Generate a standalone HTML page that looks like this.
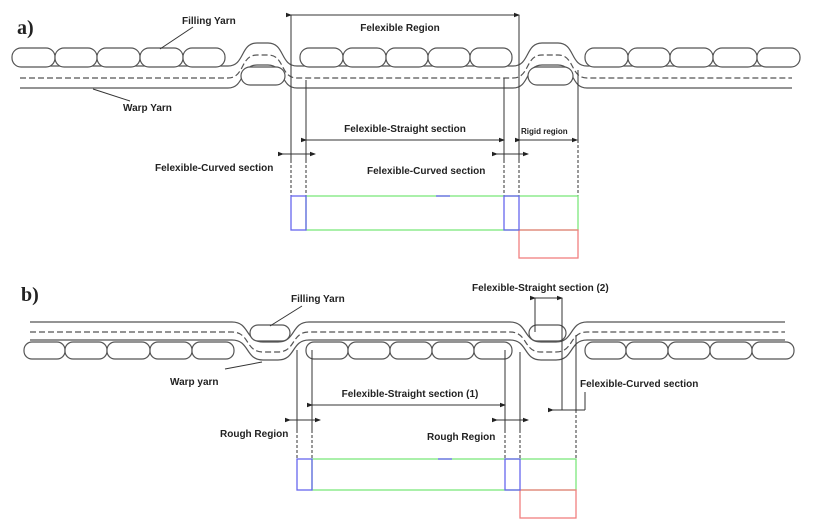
<!DOCTYPE html>
<html><head><meta charset="utf-8"><style>
html,body{margin:0;padding:0;background:#fff}
svg{display:block}
text{font-family:"Liberation Sans",sans-serif;font-weight:bold;font-size:10px;fill:#222}
</style></head><body>
<svg width="814" height="522" viewBox="0 0 814 522" xmlns="http://www.w3.org/2000/svg">
<defs>
<marker id="ar" markerWidth="6" markerHeight="6" refX="5" refY="3" orient="auto" markerUnits="userSpaceOnUse"><path d="M0,0.8 L6,3 L0,5.2z" fill="#222"/></marker>
</defs>
<g fill="none" stroke="#555" stroke-width="1.2">
<!-- part a warp -->
<path id="wa" d="M20,78 H228 C245,78 240,55 257,55 H268 C285,55 280,78 297,78 H513 C530,78 525,55 542,55 H558 C575,55 570,78 587,78 H792" stroke-dasharray="6,3"/>
<path d="M20,78 H228 C245,78 240,55 257,55 H268 C285,55 280,78 297,78 H513 C530,78 525,55 542,55 H558 C575,55 570,78 587,78 H792" transform="translate(0,-12)"/>
<path d="M20,78 H228 C245,78 240,55 257,55 H268 C285,55 280,78 297,78 H513 C530,78 525,55 542,55 H558 C575,55 570,78 587,78 H792" transform="translate(0,10)"/>
</g>
<g fill="#fff" stroke="#555" stroke-width="1.2">
<rect x="12" y="48" width="43" height="19" rx="9"/><rect x="55" y="48" width="42" height="19" rx="9"/><rect x="97" y="48" width="43" height="19" rx="9"/><rect x="140" y="48" width="43" height="19" rx="9"/><rect x="183" y="48" width="42" height="19" rx="9"/>
<rect x="300" y="48" width="43" height="19" rx="9"/><rect x="343" y="48" width="43" height="19" rx="9"/><rect x="386" y="48" width="42" height="19" rx="9"/><rect x="428" y="48" width="42" height="19" rx="9"/><rect x="470" y="48" width="42" height="19" rx="9"/>
<rect x="585" y="48" width="43" height="19" rx="9"/><rect x="628" y="48" width="42" height="19" rx="9"/><rect x="670" y="48" width="43" height="19" rx="9"/><rect x="713" y="48" width="44" height="19" rx="9"/><rect x="757" y="48" width="43" height="19" rx="9"/>
<rect x="241" y="67" width="44" height="18" rx="9"/><rect x="528" y="67" width="45" height="18" rx="9"/>
</g>
<!-- part a dims -->
<g stroke="#333" stroke-width="1" fill="none">
<line x1="291" y1="15" x2="519" y2="15" marker-end="url(#ar)" marker-start="url(#ar)"/>
<line x1="291" y1="15" x2="291" y2="160"/><line x1="519" y1="15" x2="519" y2="160"/>
<line x1="306" y1="80" x2="306" y2="160"/><line x1="504" y1="78" x2="504" y2="160"/><line x1="578" y1="70" x2="578" y2="140"/>
<line x1="306" y1="140" x2="504" y2="140" marker-end="url(#ar)" marker-start="url(#ar)"/>
<line x1="520" y1="140" x2="577" y2="140" marker-end="url(#ar)" marker-start="url(#ar)"/>
<line x1="283" y1="154" x2="315" y2="154" marker-end="url(#ar)" marker-start="url(#ar)"/>
<line x1="497" y1="154" x2="528" y2="154" marker-end="url(#ar)" marker-start="url(#ar)"/>
<line x1="193" y1="27" x2="160" y2="49"/><line x1="130" y1="101" x2="93" y2="89"/>
<g stroke-dasharray="3,2"><line x1="291" y1="160" x2="291" y2="196"/><line x1="306" y1="160" x2="306" y2="196"/><line x1="504" y1="160" x2="504" y2="196"/><line x1="519" y1="160" x2="519" y2="196"/><line x1="578" y1="140" x2="578" y2="196"/></g>
</g>
<rect x="306" y="196" width="272" height="34" fill="none" stroke="#7de87d" stroke-width="1.3"/>
<rect x="519" y="230" width="59" height="28" fill="none" stroke="#f08080" stroke-width="1.3"/>
<rect x="291" y="196" width="15" height="34" fill="none" stroke="#6666ee" stroke-width="1.3"/>
<rect x="504" y="196" width="15" height="34" fill="none" stroke="#6666ee" stroke-width="1.3"/>
<line x1="436" y1="196" x2="450" y2="196" stroke="#6666ee" stroke-width="1.3"/>
<text x="17" y="34" style="font-family:'Liberation Serif',serif;font-size:20px">a)</text>
<text x="182" y="24">Filling Yarn</text>
<text x="123" y="111">Warp Yarn</text>
<text x="400" y="31" text-anchor="middle">Felexible Region</text>
<text x="405" y="132" text-anchor="middle">Felexible-Straight section</text>
<text x="521" y="134" style="font-size:8px">Rigid region</text>
<text x="155" y="171">Felexible-Curved section</text>
<text x="367" y="174">Felexible-Curved section</text>

<!-- part b -->
<g fill="none" stroke="#555" stroke-width="1.2">
<path d="M30,332 H232 C250,332 245,352 263,352 H278 C296,352 291,332 309,332 H510 C528,332 523,352 541,352 H556 C574,352 569,332 587,332 H785" stroke-dasharray="6,3"/>
<path d="M30,332 H232 C250,332 245,352 263,352 H278 C296,352 291,332 309,332 H510 C528,332 523,352 541,352 H556 C574,352 569,332 587,332 H785" transform="translate(0,-10)"/>
<path d="M30,332 H232 C250,332 245,352 263,352 H278 C296,352 291,332 309,332 H510 C528,332 523,352 541,352 H556 C574,352 569,332 587,332 H785" transform="translate(0,8)"/>
</g>
<g fill="#fff" stroke="#555" stroke-width="1.2">
<rect x="24" y="342" width="41" height="17" rx="8"/><rect x="65" y="342" width="42" height="17" rx="8"/><rect x="107" y="342" width="43" height="17" rx="8"/><rect x="150" y="342" width="42" height="17" rx="8"/><rect x="192" y="342" width="42" height="17" rx="8"/>
<rect x="306" y="342" width="42" height="17" rx="8"/><rect x="348" y="342" width="42" height="17" rx="8"/><rect x="390" y="342" width="42" height="17" rx="8"/><rect x="432" y="342" width="42" height="17" rx="8"/><rect x="474" y="342" width="38" height="17" rx="8"/>
<rect x="585" y="342" width="41" height="17" rx="8"/><rect x="626" y="342" width="42" height="17" rx="8"/><rect x="668" y="342" width="42" height="17" rx="8"/><rect x="710" y="342" width="42" height="17" rx="8"/><rect x="752" y="342" width="42" height="17" rx="8"/>
<rect x="250" y="325" width="40" height="16" rx="8"/><rect x="529" y="325" width="37" height="16" rx="8"/>
</g>
<g stroke="#333" stroke-width="1" fill="none">
<line x1="297" y1="350" x2="297" y2="430"/><line x1="312" y1="350" x2="312" y2="430"/>
<line x1="505" y1="350" x2="505" y2="430"/><line x1="520" y1="352" x2="520" y2="430"/>
<line x1="562" y1="298" x2="562" y2="410"/><line x1="576" y1="335" x2="576" y2="410"/>
<line x1="535" y1="298" x2="535" y2="332"/>
<line x1="535" y1="298" x2="562" y2="298" marker-end="url(#ar)" marker-start="url(#ar)"/>
<line x1="312" y1="405" x2="505" y2="405" marker-end="url(#ar)" marker-start="url(#ar)"/>
<line x1="290" y1="420" x2="320" y2="420" marker-end="url(#ar)" marker-start="url(#ar)"/>
<line x1="497" y1="420" x2="528" y2="420" marker-end="url(#ar)" marker-start="url(#ar)"/>
<line x1="553" y1="410" x2="585" y2="410" marker-start="url(#ar)"/><line x1="585" y1="410" x2="585" y2="392"/>
<line x1="302" y1="306" x2="270" y2="326"/><line x1="225" y1="369" x2="262" y2="362"/>
<g stroke-dasharray="3,2"><line x1="297" y1="430" x2="297" y2="459"/><line x1="312" y1="430" x2="312" y2="459"/><line x1="505" y1="430" x2="505" y2="459"/><line x1="520" y1="430" x2="520" y2="459"/><line x1="576" y1="410" x2="576" y2="459"/></g>
</g>
<rect x="312" y="459" width="264" height="31" fill="none" stroke="#7de87d" stroke-width="1.3"/>
<rect x="520" y="490" width="56" height="28" fill="none" stroke="#f08080" stroke-width="1.3"/>
<rect x="297" y="459" width="15" height="31" fill="none" stroke="#6666ee" stroke-width="1.3"/>
<rect x="505" y="459" width="15" height="31" fill="none" stroke="#6666ee" stroke-width="1.3"/>
<line x1="438" y1="459" x2="452" y2="459" stroke="#6666ee" stroke-width="1.3"/>
<text x="21" y="301" style="font-family:'Liberation Serif',serif;font-size:20px">b)</text>
<text x="291" y="302">Filling Yarn</text>
<text x="170" y="385">Warp yarn</text>
<text x="472" y="291">Felexible-Straight section (2)</text>
<text x="410" y="397" text-anchor="middle">Felexible-Straight section (1)</text>
<text x="580" y="387">Felexible-Curved section</text>
<text x="220" y="437">Rough Region</text>
<text x="427" y="440">Rough Region</text>
</svg>
</body></html>
